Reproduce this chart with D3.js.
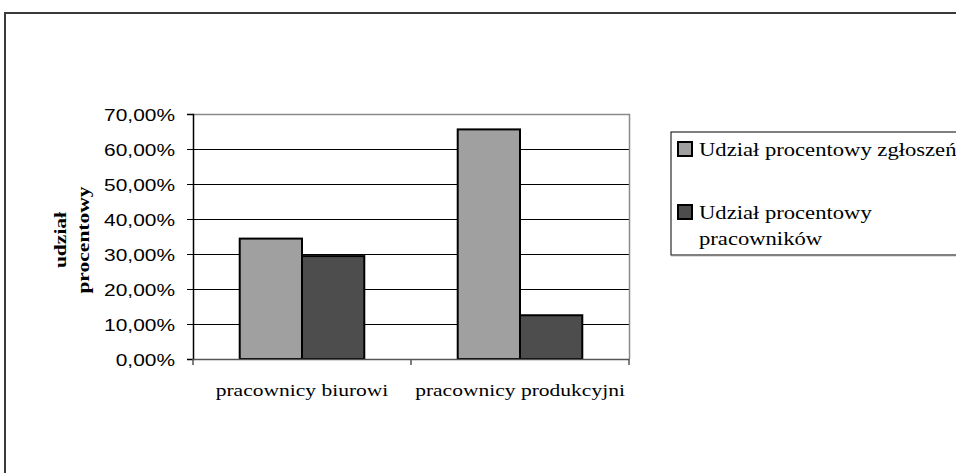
<!DOCTYPE html>
<html>
<head>
<meta charset="utf-8">
<script src="https://cdn.jsdelivr.net/npm/d3@7"></script>
<style>
  html, body { margin: 0; padding: 0; background: #fff; }
  svg { display: block; }
</style>
</head>
<body>
<svg id="chart" width="956" height="473"></svg>
<script>
// Categories, series and values
const categories = ["pracownicy biurowi", "pracownicy produkcyjni"];
const seriesNames = ["Udział procentowy zgłoszeń", "Udział procentowy pracowników"];
const sharesReports = [0.344, 0.656];
const sharesWorkers = [0.294, 0.125];
const yTicks = [0, 0.1, 0.2, 0.3, 0.4, 0.5, 0.6, 0.7];
const yTitle = ["udział", "procentowy"];
const legendLines = [["Udział procentowy zgłoszeń"], ["Udział procentowy", "pracowników"]];

const colors = ["#a0a0a0", "#4d4d4d"];
const STRETCH = 1.23;           // wide glyph rendering along the baseline
const serif = "'Liberation Serif', 'Times New Roman', serif";
const sans = "'Liberation Sans', Arial, sans-serif";

const svg = d3.select("#chart");

// Outer chart frame (only the top and left edges lie inside the view)
svg.append("path")
  .attr("d", "M5,480 L5,13 L970,13")
  .attr("fill", "none").attr("stroke", "#3a3a3a").attr("stroke-width", 2);

const plot = { left: 193, right: 629, top: 114, bottom: 359 };

const x0 = d3.scaleBand().domain(categories).range([plot.left, plot.right]).paddingInner(0).paddingOuter(0);
const x1 = d3.scaleBand().domain(d3.range(seriesNames.length)).range([0, x0.bandwidth()])
  .paddingInner(0).paddingOuter(0.75);
const y = d3.scaleLinear().domain([0, 0.7]).range([plot.bottom, plot.top]);

// Gridlines
svg.append("g").selectAll("line")
  .data(yTicks.filter(t => t > 0 && t < 0.7))
  .join("line")
  .attr("x1", plot.left).attr("x2", plot.right)
  .attr("y1", d => Math.round(y(d)) + 0.5).attr("y2", d => Math.round(y(d)) + 0.5)
  .attr("stroke", "#000").attr("stroke-width", 1);

// Plot area border (top and right)
svg.append("path")
  .attr("d", `M${plot.left},${plot.top + 0.5} H${plot.right + 0.5} V${plot.bottom}`)
  .attr("fill", "none").attr("stroke", "#8a8a8a").attr("stroke-width", 1.5);

// Bars
const data = categories.map((c, i) => ({ cat: c, values: [sharesReports[i], sharesWorkers[i]] }));
svg.append("g").selectAll("g")
  .data(data).join("g")
  .attr("transform", d => `translate(${x0(d.cat)},0)`)
  .selectAll("rect")
  .data(d => d.values.map((v, s) => ({ v, s })))
  .join("rect")
  .attr("x", d => x1(d.s))
  .attr("width", x1.bandwidth())
  .attr("y", d => y(d.v))
  .attr("height", d => y(0) - y(d.v))
  .attr("fill", d => colors[d.s])
  .attr("stroke", "#000").attr("stroke-width", 2);

// Y axis
const yAxis = svg.append("g")
  .attr("transform", `translate(${plot.left},0)`)
  .call(d3.axisLeft(y).tickValues(yTicks).tickSize(6).tickFormat(""));
yAxis.select(".domain").attr("stroke", "#000").attr("stroke-width", 1.5);
yAxis.selectAll(".tick line").attr("stroke", "#000");

// Y tick labels
svg.append("g").selectAll("text")
  .data(yTicks).join("text")
  .attr("transform", d => `translate(175,${y(d) + 6.5}) scale(${STRETCH},1)`)
  .attr("text-anchor", "end")
  .attr("font-family", sans).attr("font-size", 17)
  .attr("fill", "#000")
  .text(d => d3.format(".2f")(d * 100).replace(".", ",") + "%");

// X axis
const xAxis = svg.append("g")
  .attr("transform", `translate(0,${plot.bottom})`)
  .call(d3.axisBottom(x0).tickSize(0).tickFormat(""));
xAxis.select(".domain").attr("stroke", "#555").attr("stroke-width", 1.5);
svg.append("g").selectAll("line")
  .data([plot.left, x0(categories[1]), plot.right]).join("line")
  .attr("x1", d => d).attr("x2", d => d)
  .attr("y1", plot.bottom).attr("y2", plot.bottom + 6)
  .attr("stroke", "#555").attr("stroke-width", 1.5);

// X category labels
svg.append("g").selectAll("text")
  .data(categories).join("text")
  .attr("transform", d => `translate(${x0(d) + x0.bandwidth() / 2},396) scale(${STRETCH},1)`)
  .attr("text-anchor", "middle")
  .attr("font-family", serif).attr("font-size", 17.5)
  .attr("fill", "#000")
  .text(d => d);

// Y axis title (two lines, rotated)
svg.append("g").selectAll("text")
  .data(yTitle).join("text")
  .attr("transform", (d, i) => `translate(${66 + i * 23},240) rotate(-90) scale(${STRETCH},1)`)
  .attr("text-anchor", "middle")
  .attr("font-family", serif).attr("font-size", 17.5).attr("font-weight", "bold")
  .attr("fill", "#000")
  .text(d => d);

// Legend
const legend = svg.append("g");
legend.append("rect")
  .attr("x", 671).attr("y", 132).attr("width", 320).attr("height", 123)
  .attr("fill", "#fff").attr("stroke", "#000").attr("stroke-width", 1);
legend.append("line")
  .attr("x1", 671).attr("x2", 980).attr("y1", 255.5).attr("y2", 255.5)
  .attr("stroke", "#808080").attr("stroke-width", 1.5);

const legendTop = [142, 205];
seriesNames.forEach((name, i) => {
  legend.append("rect")
    .attr("x", 678).attr("y", legendTop[i]).attr("width", 14).attr("height", 14)
    .attr("fill", colors[i]).attr("stroke", "#000").attr("stroke-width", 2);
  legendLines[i].forEach((line, j) => {
    legend.append("text")
      .attr("transform", `translate(699,${legendTop[i] + 13.5 + j * 26}) scale(${STRETCH},1)`)
      .attr("font-family", serif).attr("font-size", 18.4)
      .attr("fill", "#000")
      .text(line);
  });
});
</script>
</body>
</html>
